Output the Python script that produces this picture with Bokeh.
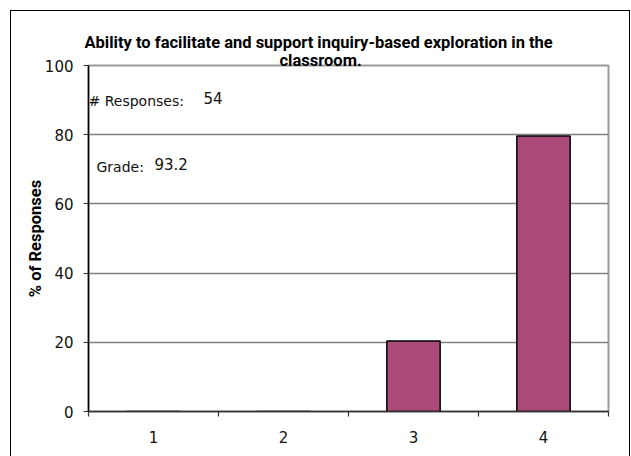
from bokeh.plotting import figure
from bokeh.models import Range1d, FixedTicker, Label, Title
from bokeh.embed import file_html
from bokeh.resources import INLINE

# ---- data ----
categories = ["1", "2", "3", "4"]
percent = [0.0, 0.0, 20.4, 79.6]
y_ticks = [0, 20, 40, 60, 80, 100]
n_responses = "54"
grade = "93.2"
title_line1 = "Ability to facilitate and support inquiry-based exploration in the"
title_line2 = "classroom."

BAR_COLOR = "#AA4A78"
BOLD_FONT = "Roboto"
REG = "DejaVu Sans"

# geometry (page px)
FIG_L, FIG_T = 11, 11
FIG_R, FIG_B = 629, 456
FR_L, FR_R, FR_T, FR_B = 88, 608, 65, 411

xs = [i + 1 for i in range(len(categories))]

p = figure(width=FIG_R - FIG_L, height=FIG_B - FIG_T, output_backend="svg", toolbar_location=None,
           title=None,
           x_range=Range1d(0.5, 4.5), y_range=Range1d(0, 100),
           min_border_left=FR_L - FIG_L, min_border_right=FIG_R - FR_R,
           min_border_top=FR_T - FIG_T, min_border_bottom=FIG_B - FR_B,
           background_fill_color="white", border_fill_color="white")
p.margin = (FIG_T, 0, 0, FIG_L)
p.styles = {"outline": "1.3px solid #000000", "outline-offset": "0px"}

p.outline_line_color = "#9a9a9a"
p.outline_line_width = 2

p.vbar(x=xs, top=percent, width=0.41, fill_color=BAR_COLOR, line_color="black", line_width=1.5)

def px_to_x(px):
    return 0.5 + (px - FR_L) / (FR_R - FR_L) * 4.0

def py_to_y(py):
    return (FR_B - py) / (FR_B - FR_T) * 100.0

# axes
xa = p.xaxis[0]
xa.ticker = FixedTicker(ticks=xs, minor_ticks=[0.5, 1.5, 2.5, 3.5, 4.5])
xa.major_label_overrides = {x: c for x, c in zip(xs, categories)}
xa.major_tick_out = 0
xa.major_tick_in = 0
xa.minor_tick_out = 5
xa.minor_tick_in = 0
xa.minor_tick_line_color = "#333333"
xa.minor_tick_line_width = 1.2
xa.axis_line_color = "#333333"
xa.axis_line_width = 1.5
xa.major_label_text_font = REG
xa.major_label_text_font_size = "15px"
xa.major_label_text_color = "#111111"
xa.major_label_standoff = 14

ya = p.yaxis[0]
ya.ticker = FixedTicker(ticks=y_ticks)
ya.minor_tick_line_color = None
ya.major_tick_out = 5
ya.major_tick_in = 0
ya.major_tick_line_color = "#333333"
ya.major_tick_line_width = 1.2
ya.axis_line_color = "black"
ya.axis_line_width = 1.5
ya.major_label_text_font = REG
ya.major_label_text_font_size = "15px"
ya.major_label_text_color = "#111111"
ya.major_label_standoff = 10
ya.axis_label = "% of Responses"
ya.axis_label_text_font = BOLD_FONT
ya.axis_label_text_font_style = "bold"
ya.axis_label_text_font_size = "16.5px"
ya.axis_label_text_color = "black"
ya.axis_label_standoff = -3

p.xgrid.grid_line_color = None
p.ygrid.grid_line_color = "#808080"
p.ygrid.grid_line_width = 1.5
p.ygrid.ticker = FixedTicker(ticks=y_ticks)

# title: two lines, first added is nearest to the frame
p.add_layout(Title(text=title_line2, align="left", offset=191, standoff=-9,
                   text_font=BOLD_FONT, text_font_style="bold", text_font_size="16.5px",
                   text_color="black"), "above")
p.add_layout(Title(text=title_line1, align="left", offset=-4, standoff=3,
                   text_font=BOLD_FONT, text_font_style="bold", text_font_size="16.5px",
                   text_color="black"), "above")

# stats annotations
p.add_layout(Label(x=px_to_x(88), y=py_to_y(100), text="# Responses:", text_align="left",
                   text_baseline="middle", text_font=REG, text_font_size="14px", text_color="#111111"))
p.add_layout(Label(x=px_to_x(203), y=py_to_y(97), text=n_responses, text_align="left",
                   text_baseline="middle", text_font=REG, text_font_size="15px", text_color="#111111"))
p.add_layout(Label(x=px_to_x(96), y=py_to_y(166), text="Grade:", text_align="left",
                   text_baseline="middle", text_font=REG, text_font_size="14px", text_color="#111111"))
p.add_layout(Label(x=px_to_x(154), y=py_to_y(163), text=grade, text_align="left",
                   text_baseline="middle", text_font=REG, text_font_size="15px", text_color="#111111"))

open("out.html", "w").write(file_html(p, INLINE))
